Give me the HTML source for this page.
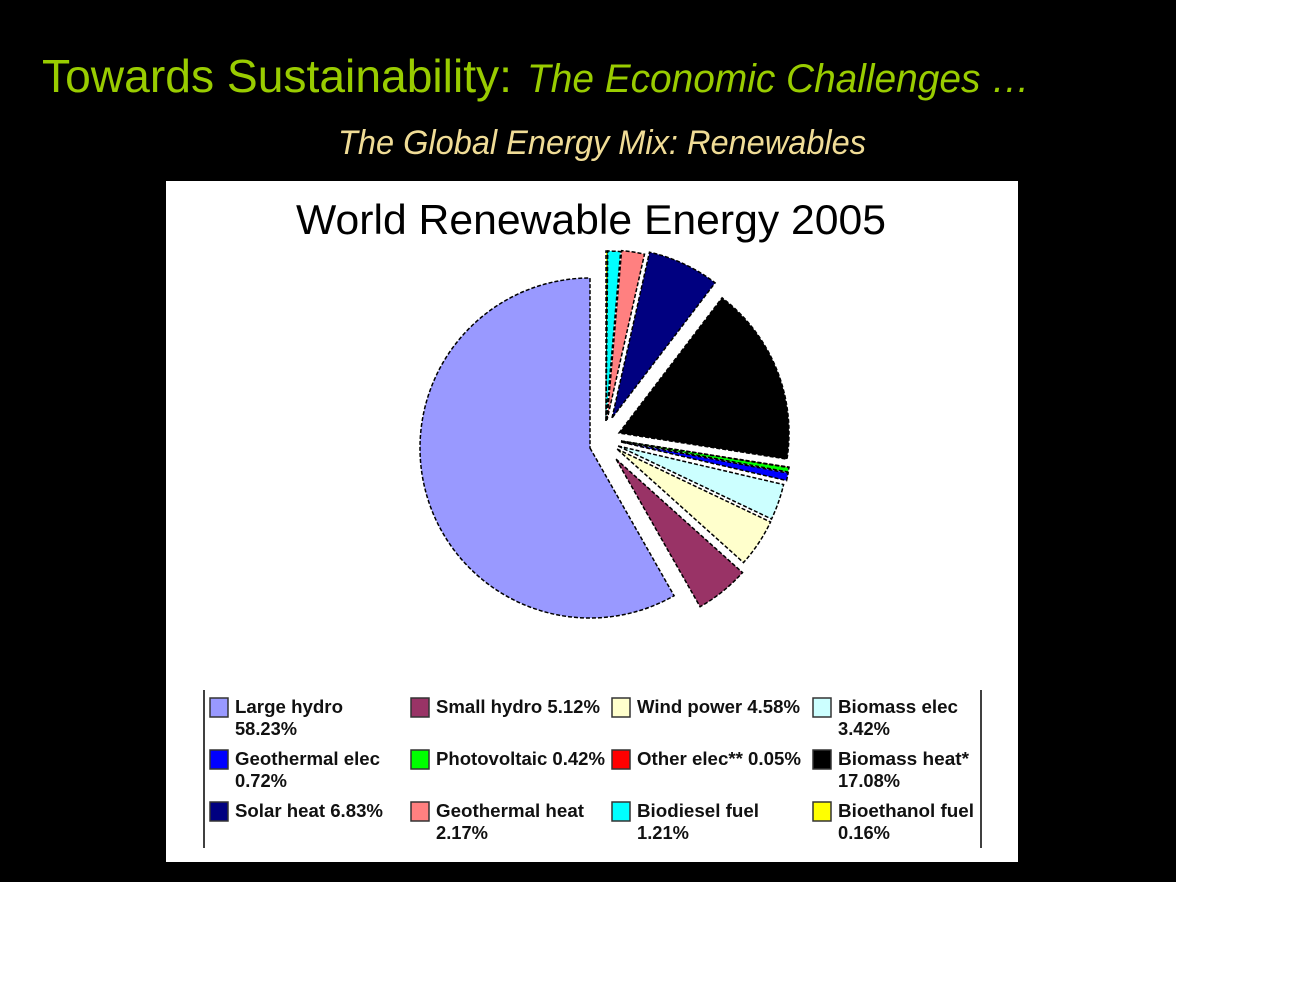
<!DOCTYPE html>
<html><head><meta charset="utf-8"><style>
html,body{margin:0;padding:0;background:#fff;}
svg{display:block;}
</style></head><body>
<svg id="s" width="1294" height="1000" viewBox="0 0 1294 1000" xmlns="http://www.w3.org/2000/svg">
<rect x="0" y="0" width="1294" height="1000" fill="#fff"/>
<rect x="0" y="0" width="1176" height="882" fill="#000"/>
<text x="42" y="92" font-family="Liberation Sans, sans-serif" font-size="46" fill="#99cc00" textLength="470" lengthAdjust="spacingAndGlyphs">Towards Sustainability:</text>
<text x="527" y="92" font-family="Liberation Sans, sans-serif" font-style="italic" font-size="40" fill="#99cc00" textLength="503" lengthAdjust="spacingAndGlyphs">The Economic Challenges …</text>
<text x="338" y="154" font-family="Liberation Sans, sans-serif" font-style="italic" font-size="34" fill="#f0dc96" textLength="528" lengthAdjust="spacingAndGlyphs">The Global Energy Mix: Renewables</text>
<rect x="166" y="181" width="852" height="681" fill="#fff"/>
<text x="296" y="234" font-family="Liberation Sans, sans-serif" font-size="42" fill="#000" textLength="590" lengthAdjust="spacingAndGlyphs">World Renewable Energy 2005</text>
<g id="pie"></g>
<line x1="204" y1="690" x2="204" y2="848" stroke="#000" stroke-width="1.5"/>
<line x1="981" y1="690" x2="981" y2="848" stroke="#000" stroke-width="1.5"/>
<g id="leg" font-family="Liberation Sans, sans-serif" font-weight="bold" font-size="18" fill="#111"></g>
</svg>
<script>
var NS="http://www.w3.org/2000/svg";
var R=170;
var sl=[
 ["#ffff00",0.16,606,421],
 ["#00ffff",1.21,606,421],
 ["#ff8080",2.17,607,420],
 ["#000080",6.83,612,418],
 ["#000000",17.08,619,433],
 ["#ff0000",0.05,621,441],
 ["#00ff00",0.42,621,441],
 ["#0000ff",0.72,621,442],
 ["#ccffff",3.42,618,446],
 ["#ffffcc",4.58,617,449],
 ["#993366",5.12,616,459],
 ["#9999ff",58.23,590,448]
];
var tot=0;sl.forEach(function(s){tot+=s[1];});
var a=0,g=document.getElementById("pie");
sl.forEach(function(s){
 var a0=a/tot*2*Math.PI,a1=(a+s[1])/tot*2*Math.PI;a+=s[1];
 var cx=s[2],cy=s[3];
 var x0=cx+R*Math.sin(a0),y0=cy-R*Math.cos(a0),x1=cx+R*Math.sin(a1),y1=cy-R*Math.cos(a1);
 var p=document.createElementNS(NS,"path");
 p.setAttribute("d","M"+cx+","+cy+"L"+x0+","+y0+"A"+R+","+R+" 0 "+((a1-a0)>Math.PI?1:0)+" 1 "+x1+","+y1+"Z");
 p.setAttribute("fill",s[0]);p.setAttribute("stroke","#000");p.setAttribute("stroke-width","1.5");
 p.setAttribute("stroke-dasharray","4,2");
 g.appendChild(p);
});
var L=document.getElementById("leg");
var items=[
 ["#9999ff","Large hydro","58.23%",108],["#993366","Small hydro 5.12%","",164],["#ffffcc","Wind power 4.58%","",163],["#ccffff","Biomass elec","3.42%",120],
 ["#0000ff","Geothermal elec","0.72%",145],["#00ff00","Photovoltaic 0.42%","",169],["#ff0000","Other elec** 0.05%","",164],["#000000","Biomass heat*","17.08%",131],
 ["#000080","Solar heat 6.83%","",148],["#ff8080","Geothermal heat","2.17%",148],["#00ffff","Biodiesel fuel","1.21%",122],["#ffff00","Bioethanol fuel","0.16%",136]
];
var xs=[210,411,612,813],ys=[698,750,802];
items.forEach(function(it,i){
 var x=xs[i%4],y=ys[Math.floor(i/4)];
 var r=document.createElementNS(NS,"rect");
 r.setAttribute("x",x);r.setAttribute("y",y);r.setAttribute("width",18);r.setAttribute("height",19);
 r.setAttribute("fill",it[0]);r.setAttribute("stroke","#333");r.setAttribute("stroke-width","1.5");L.appendChild(r);
 var t=document.createElementNS(NS,"text");t.setAttribute("x",x+25);t.setAttribute("y",y+15);t.textContent=it[1];
 t.setAttribute("textLength",it[3]);t.setAttribute("lengthAdjust","spacingAndGlyphs");
 L.appendChild(t);
 if(it[2]){var t2=document.createElementNS(NS,"text");t2.setAttribute("x",x+25);t2.setAttribute("y",y+37);t2.textContent=it[2];
 t2.setAttribute("textLength",it[2].length==5?52:62);t2.setAttribute("lengthAdjust","spacingAndGlyphs");L.appendChild(t2);}
});
</script>
</body></html>
